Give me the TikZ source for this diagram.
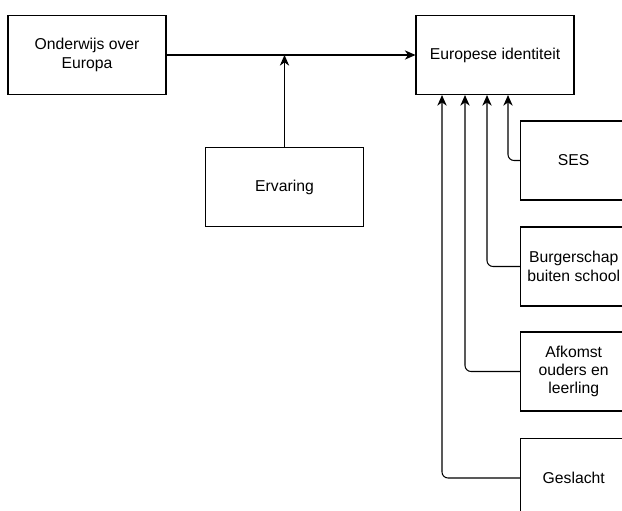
\documentclass[tikz,border=0pt]{standalone}
\usepackage{fontspec}
\setmainfont{Liberation Sans}
\usetikzlibrary{arrows.meta}

\begin{document}
\begin{tikzpicture}[x=0.75pt, y=-0.75pt, line width=0.8pt,
    >={Stealth[length=8pt, width=7pt, inset=2.5pt]},
    box/.style={draw, minimum width=118.5pt, minimum height=59.25pt,
        align=center, font=\fontsize{11.8}{13.7}\selectfont},
    sidebox/.style={box, minimum width=79.5pt}]

    % Fixed frame of the picture
    \useasboundingbox (0,0) rectangle (622,511);
    \clip (0,0) rectangle (622,511);

    % 1. Main boxes
    \node[box] (onderwijs) at (87,55) {Onderwijs over\\Europa};
    \node[box] (eu) at (495,55) {Europese identiteit};
    \node[box] (ervaring) at (284.5,187) {Ervaring};

    % 2. Background factors (cut off at the right edge)
    \node[sidebox] (ses) at (573.7,160.5) {SES};
    \node[sidebox] (burger) at (573.7,266.5) {Burgerschap\\buiten school};
    \node[sidebox] (afkomst) at (573.7,371.5) {Afkomst\\ouders en\\leerling};
    \node[sidebox] (geslacht) at (573.7,478) {Geslacht};

    % 3. Main effect and its moderator
    \draw[->] (onderwijs) -- (eu);
    \coordinate (join) at (ervaring.north |- onderwijs.east);
    \draw[->] (ervaring) -- (join);

    % 4. Elbow connectors into the bottom of the outcome box
    \draw[->, rounded corners=4.5pt] (ses.west) -| ([xshift=9.75pt]eu.south);
    \draw[->, rounded corners=4.5pt] (burger.west) -| ([xshift=-6pt]eu.south);
    \draw[->, rounded corners=4.5pt] (afkomst.west) -| ([xshift=-22.5pt]eu.south);
    \draw[->, rounded corners=4.5pt] (geslacht.west) -| ([xshift=-39.75pt]eu.south);

\end{tikzpicture}
\end{document}
